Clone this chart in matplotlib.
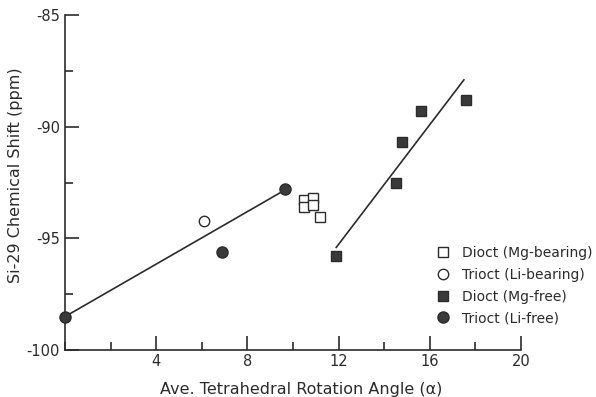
"""
Si-29 chemical shift vs average tetrahedral rotation angle.
"""

import matplotlib
matplotlib.use("Agg")
import matplotlib.pyplot as plt
from matplotlib.ticker import MultipleLocator

matplotlib.rcParams.update({
    "font.family": "sans-serif",
    "font.sans-serif": ["DejaVu Sans"],
    "font.size": 10,
    "axes.unicode_minus": False,
})

INK = "#2b2b2b"

# ---------------------------------------------------------------------------
# Data
# ---------------------------------------------------------------------------
mg_bearing_x = [10.5, 10.9, 10.5, 10.9, 11.2]
mg_bearing_y = [-93.3, -93.2, -93.6, -93.5, -94.05]

li_bearing_x = [6.1]
li_bearing_y = [-94.2]

mg_free_x = [17.6, 15.6, 14.8, 14.5, 11.9]
mg_free_y = [-88.8, -89.3, -90.7, -92.5, -95.8]

li_free_x = [0.0, 6.9, 9.65]
li_free_y = [-98.5, -95.6, -92.8]

# trend lines
trio_line_x = [0.0, 9.7]
trio_line_y = [-98.5, -92.8]
dioct_line_x = [11.9, 17.5]
dioct_line_y = [-95.4, -87.9]

# ---------------------------------------------------------------------------
# Plot
# ---------------------------------------------------------------------------
fig = plt.figure(figsize=(5.96, 3.97), dpi=100)
ax = fig.add_axes([0.109, 0.118, 0.765, 0.844])

ax.plot(trio_line_x, trio_line_y, color=INK, lw=1.2, zorder=2)
ax.plot(dioct_line_x, dioct_line_y, color=INK, lw=1.2, zorder=2)

ax.plot(mg_bearing_x, mg_bearing_y, ls="none", marker="s", ms=7,
        mfc="white", mec=INK, mew=1.0, label="Dioct (Mg-bearing)", zorder=3)
ax.plot(li_bearing_x, li_bearing_y, ls="none", marker="o", ms=7.5,
        mfc="white", mec=INK, mew=1.0, label="Trioct (Li-bearing)", zorder=3)
ax.plot(mg_free_x, mg_free_y, ls="none", marker="s", ms=7,
        mfc="#3a3a3a", mec=INK, mew=1.0, label="Dioct (Mg-free)", zorder=3)
ax.plot(li_free_x, li_free_y, ls="none", marker="o", ms=8,
        mfc="#3a3a3a", mec=INK, mew=1.0, label="Trioct (Li-free)", zorder=3,
        clip_on=False)

ax.set_xlim(0, 20)
ax.set_ylim(-100, -85)
ax.xaxis.set_minor_locator(MultipleLocator(2))
ax.yaxis.set_major_locator(MultipleLocator(5))
ax.yaxis.set_minor_locator(MultipleLocator(2.5))
ax.set_xticks([4, 8, 12, 16, 20])
ax.set_xticklabels(["4", "8", "12", "16", "20"])

ax.tick_params(which="major", direction="in", length=10, width=1.2,
               color=INK, labelcolor=INK, labelsize=10.5)
ax.tick_params(axis="x", which="major", pad=3)
ax.tick_params(axis="y", which="major", pad=3.5)
ax.tick_params(which="minor", direction="in", length=6, width=1.2, color=INK)

ax.spines[["top", "right"]].set_visible(False)
for s in ("left", "bottom"):
    ax.spines[s].set_color(INK)
    ax.spines[s].set_linewidth(1.2)

ax.set_xlabel("Ave. Tetrahedral Rotation Angle (α)", fontsize=11.5,
              color=INK)
ax.xaxis.set_label_coords(0.518, -0.095)
ax.set_ylabel("Si-29 Chemical Shift (ppm)", fontsize=11.5, color=INK)
ax.yaxis.set_label_coords(-0.092, 0.522)

ax.legend(loc="upper left", bbox_to_anchor=(0.815, 0.31), frameon=False,
          fontsize=10, handlelength=1.0, handletextpad=0.8,
          borderpad=0, borderaxespad=0, labelspacing=0.55,
          labelcolor=INK)

fig.savefig("out.png", dpi=100)
plt.close(fig)
